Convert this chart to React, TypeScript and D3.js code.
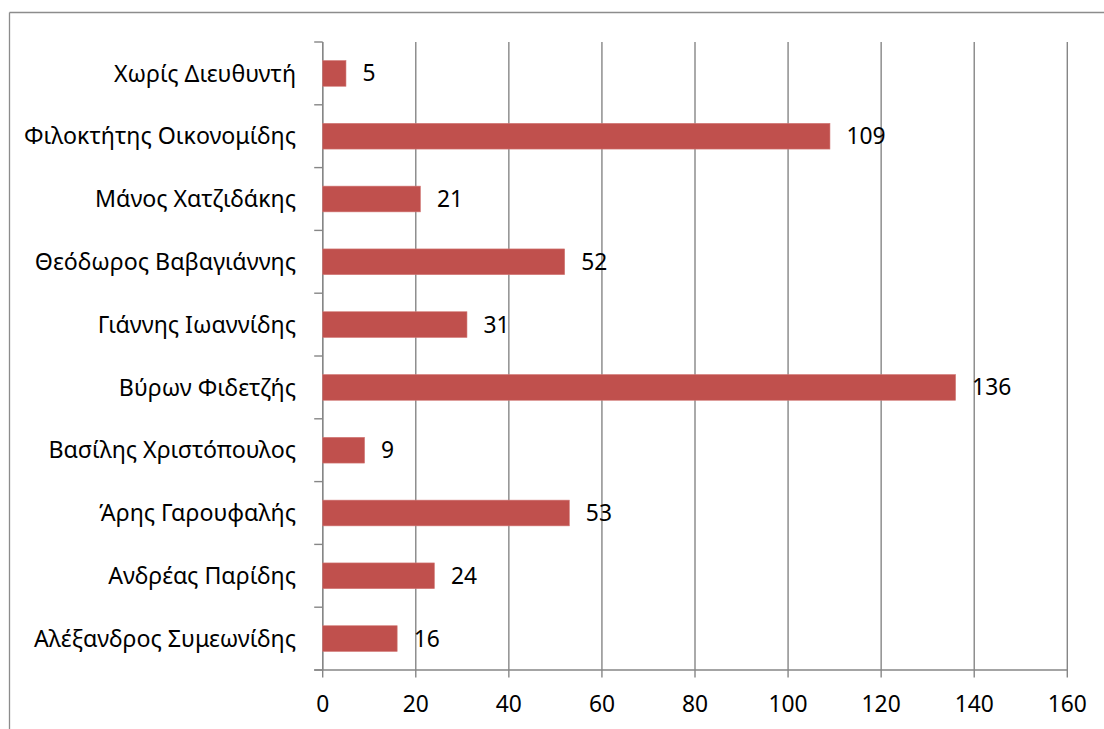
import React from "react";
import * as d3 from "d3";

// Category names, top to bottom
const categories: string[] = [
  "Χωρίς Διευθυντή",
  "Φιλοκτήτης Οικονομίδης",
  "Μάνος Χατζιδάκης",
  "Θεόδωρος Βαβαγιάννης",
  "Γιάννης Ιωαννίδης",
  "Βύρων Φιδετζής",
  "Βασίλης Χριστόπουλος",
  "Άρης Γαρουφαλής",
  "Ανδρέας Παρίδης",
  "Αλέξανδρος Συμεωνίδης",
];

const values: number[] = [5, 109, 21, 52, 31, 136, 9, 53, 24, 16];

const xTicks: number[] = [0, 20, 40, 60, 80, 100, 120, 140, 160];

const W = 1104;
const H = 729;
const FONT = "'Noto Sans', 'Open Sans', sans-serif";
const GRID = "#868686";
const BAR = "#C0504D";

export default function App() {
  const left = 322.7;
  const right = 1067.3;
  const top = 42;
  const bottom = 670;

  const x = d3.scaleLinear().domain([0, 160]).range([left, right]);
  const y = d3
    .scaleBand<string>()
    .domain(categories)
    .range([top, bottom])
    .paddingInner(0.59)
    .paddingOuter(0.295);
  const band = (bottom - top) / categories.length;

  return (
    <svg
      width={W}
      height={H}
      style={{ position: "absolute", left: 0, top: 0, background: "#fff" }}
    >
      {/* outer frame */}
      <line x1={9.5} y1={12.5} x2={W} y2={12.5} stroke="#8c8c8c" strokeWidth={1.3} />
      <line x1={9.5} y1={12.5} x2={9.5} y2={H} stroke="#8c8c8c" strokeWidth={1.3} />

      {/* vertical gridlines and x ticks */}
      {xTicks.map((t) => (
        <g key={t}>
          <line x1={x(t)} x2={x(t)} y1={top} y2={bottom + 7.5} stroke={GRID} strokeWidth={1.4} />
          <text
            x={x(t)}
            y={712}
            textAnchor="middle"
            fontFamily={FONT}
            fontSize={22.8}
            fill="#000"
          >
            {t}
          </text>
        </g>
      ))}

      {/* y-axis with category ticks */}
      <line x1={x(0)} x2={x(0)} y1={top} y2={bottom} stroke={GRID} strokeWidth={1.4} />
      {d3.range(categories.length + 1).map((i) => (
        <line
          key={i}
          x1={x(0) - 8.5}
          x2={x(0)}
          y1={top + i * band}
          y2={top + i * band}
          stroke={GRID}
          strokeWidth={1.4}
        />
      ))}
      {/* x-axis */}
      <line x1={x(0) - 8.5} x2={right} y1={bottom} y2={bottom} stroke={GRID} strokeWidth={1.4} />

      {/* bars */}
      {categories.map((c, i) => (
        <rect
          key={c}
          x={x(0)}
          y={y(c)!}
          width={x(values[i]) - x(0)}
          height={y.bandwidth()}
          fill={BAR}
          stroke="#d27a77"
          strokeWidth={0.6}
        />
      ))}

      {/* category labels */}
      {categories.map((c) => (
        <text
          key={c}
          x={296}
          y={y(c)! + y.bandwidth() / 2}
          dy="0.35em"
          textAnchor="end"
          fontFamily={FONT}
          fontSize={23.2}
          fill="#000"
        >
          {c}
        </text>
      ))}

      {/* value labels */}
      {categories.map((c, i) => (
        <text
          key={c}
          x={x(values[i]) + 16.5}
          y={y(c)! + y.bandwidth() / 2}
          dy="0.35em"
          fontFamily={FONT}
          fontSize={22.8}
          fill="#000"
        >
          {values[i]}
        </text>
      ))}
    </svg>
  );
}
